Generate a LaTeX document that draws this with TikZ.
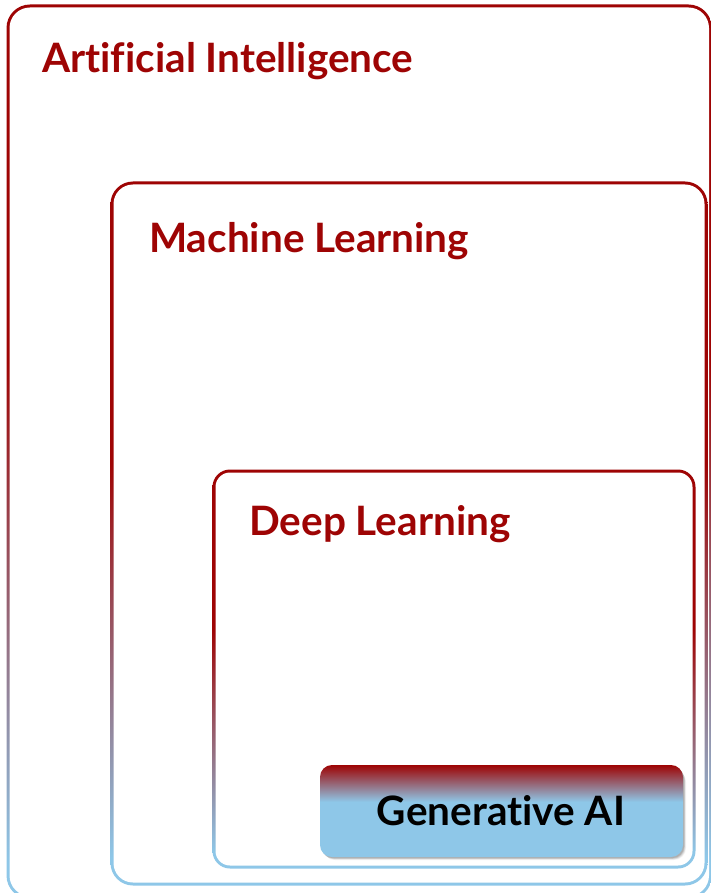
\documentclass[tikz,border=0pt]{standalone}
\usepackage{fontspec}
\setmainfont{Lato}[Ligatures={CommonOff,RareOff,ContextualOff}]
\definecolor{dr}{RGB}{158,4,4}
\definecolor{lb}{RGB}{142,199,232}
\pgfdeclareverticalshading{bord}{100bp}{color(0bp)=(lb); color(27bp)=(lb); color(55bp)=(dr); color(100bp)=(dr)}
\pgfdeclareverticalshading{genshade}{100bp}{color(0bp)=(lb); color(55bp)=(lb); color(75bp)=(dr); color(100bp)=(dr)}
\tikzset{
  lbl/.style={text=dr, font=\fontsize{40.5}{48}\selectfont\bfseries, anchor=base west, inner sep=0pt},
  genlbl/.style={text=black, font=\fontsize{40.5}{48}\selectfont\bfseries, anchor=base, inner sep=0pt},
}
\begin{document}
\begin{tikzpicture}[x=1pt,y=-1pt]
\useasboundingbox (0,0) rectangle (711,893);
\clip (0,0) rectangle (711,893);
% AI box
\shade[shading=bord, rounded corners=23.5pt] (6.5,4.5) rectangle (712,899);
\fill[white, rounded corners=20.5pt] (9.5,7.5) rectangle (709,896);
% ML box
\shade[shading=bord, rounded corners=22.5pt] (110.5,181.5) rectangle (707.5,885.5);
\fill[white, rounded corners=19.5pt] (113.5,184.5) rectangle (704.5,882.5);
% DL box
\shade[shading=bord, rounded corners=17.5pt] (212.5,469.5) rectangle (695.5,868.5);
\fill[white, rounded corners=14.5pt] (215.5,472.5) rectangle (692.5,865.5);
% shadow of GenAI
\foreach \o/\a in {5/0.05,4/0.08,3/0.1,2/0.12}{
  \fill[black, opacity=\a, rounded corners=12pt] (320+\o*0.6,765+\o) rectangle (683+\o*0.6,857+\o*0.6);
}
% GenAI box
\shade[shading=genshade, rounded corners=12pt] (320,765) rectangle (683,857);
% labels
\node[lbl] (tai) at (42,73) {Artificial Intelligence};
\node[lbl] (tml) at (149,252) {Machine Learning};
\node[lbl] (tdl) at (249,535) {Deep Learning};
\node[genlbl] (tgen) at (501,825) {Generative AI};
\end{tikzpicture}
\end{document}
